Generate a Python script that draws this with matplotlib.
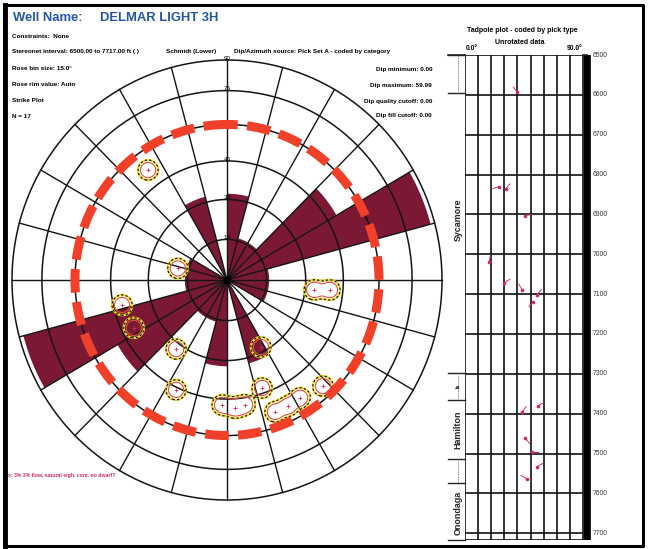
import numpy as np
import matplotlib
matplotlib.use("Agg")
import matplotlib.pyplot as plt

# ---------------- data ----------------
# Rose diagram (strike, 15 deg bins, bidirectional) - counts per bin start azimuth
rose_bin_start = [0, 15, 30, 45, 60, 75, 90, 105, 120, 135, 150, 165]
rose_counts    = [2, 1, 1, 3, 5, 1, 1, 1, 0, 0, 2, 0]
rose_rim = 5.1
rose_bin = 15.0

# Stereonet ring dips (labels) and spoke interval
ring_dips = [15, 30, 45, 60, 75, 90]
spoke_step = 15
dip_max_circle = 60  # dashed red circle (dip maximum)

# Pole positions (azimuth, dip) used for the density contours
pole_az  = [323.7, 283.0, 96.3, 95.4, 256.9, 243.3, 217.0, 152.6, 205.4,
            182.3, 176.4, 171.6, 161.6, 159.6, 153.6, 147.6, 137.2]
pole_dip = [52.0, 19.1, 33.5, 39.8, 41.5, 40.1, 32.3, 28.1, 46.0,
            47.4, 48.7, 47.9, 42.9, 53.8, 53.8, 53.3, 55.4]

# Tadpole plot
tp_depth = [6593, 6830, 6836, 6903, 7019, 7071, 7089, 7101, 7119,
            7380, 7395, 7462, 7497, 7533, 7563]
tp_dip   = [40, 26, 31, 46, 18.5, 30, 43.5, 55, 52, 56, 43.5, 46, 51, 55, 47]
tp_azi   = [320, 250, 40, 80, 10, 60, 330, 40, 220, 60, 40, 140, 90, 60, 300]
depth_top, depth_bot = 6500, 7717
depth_ticks = list(range(6500, 7701, 100))
dip_ticks = list(range(0, 91, 10))

# Formation tops
form_names  = ["Sycamore", "Hamilton", "Onondaga"]
form_label_depth = [6913, 7440, 7648]
bracket_pairs = [(6500, 6595), (7297, 7365), (7513, 7575)]

W, H = 649, 549
fig = plt.figure(figsize=(W / 100, H / 100), dpi=100)
fig.patch.set_facecolor("white")

FONT = "Liberation Sans"
BLUE = "#2456A6"
MAROON = "#7B1935"
RED = "#F0402A"
PINK = "#D02868"

# ---------------- background axes (pixel coords, text & frame) ----------------
bg = fig.add_axes([0, 0, 1, 1])
bg.set_xlim(0, W)
bg.set_ylim(H, 0)
bg.axis("off")

bg.plot([4, 643, 643, 4, 4], [5, 5, 546, 546, 5], color="black", lw=2.2)
bg.plot([5, 5], [5, 546], color="black", lw=3.5)

bg.text(13, 18, "Well Name:", color=BLUE, fontsize=9.4, fontweight="bold",
        family=FONT, va="center", ha="left")
bg.text(100, 18, "DELMAR LIGHT 3H", color=BLUE, fontsize=9.4, fontweight="bold",
        family=FONT, va="center", ha="left")

small = dict(fontsize=4.6, fontweight="bold", family=FONT, va="center", color="black")
bg.text(12, 36, "Constraints:  None", ha="left", **small)
bg.text(12, 52, "Stereonet interval: 6500.00 to 7717.00 ft ( )", ha="left", **small)
bg.text(166, 52, "Schmidt (Lower)", ha="left", **small)
bg.text(234, 52, "Dip/Azimuth source: Pick Set A - coded by category", ha="left", **small)
bg.text(12, 69, "Rose bin size: %.1f°" % rose_bin, ha="left", **small)
bg.text(12, 85, "Rose rim value: Auto", ha="left", **small)
bg.text(12, 101, "Strike Plot", ha="left", **small)
bg.text(12, 116, "N = 17", ha="left", **small)
bg.text(432, 69, "Dip minimum: 0.00", ha="right", **small)
bg.text(432, 85, "Dip maximum: 59.99", ha="right", **small)
bg.text(432, 101, "Dip quality cutoff: 0.00", ha="right", **small)
bg.text(432, 116, "Dip fill cutoff: 0.00", ha="right", **small)

title_kw = dict(small, fontsize=5.0)
bg.text(522, 31, "Tadpole plot - coded by pick type", ha="center", **title_kw)
bg.text(520, 42, "Unrotated data", ha="center", **title_kw)

bg.text(8, 476, "x: 3% 3% flow, natural eigh. cont. no dwarf?", ha="left", color=PINK,
        fontsize=3.7, family=FONT, va="center", fontweight="bold")

# ---------------- stereonet ----------------
cx, cy = 227, 280
sx, sy = 215.0, 220.0
L = 1.06
st = fig.add_axes([(cx - L * sx) / W, (H - cy - L * sy) / H, 2 * L * sx / W, 2 * L * sy / H])
st.set_xlim(-L, L)
st.set_ylim(-L, L)
st.axis("off")

def proj(az, dip):
    r = np.sqrt(2) * np.sin(np.radians(dip) / 2)
    a = np.radians(az)
    return r * np.sin(a), r * np.cos(a)

# rose petals (mirrored)
for b0, c in zip(rose_bin_start, rose_counts):
    if c <= 0:
        continue
    r = c / rose_rim
    for off in (0, 180):
        a = np.radians(np.linspace(b0 + off, b0 + off + rose_bin, 30))
        xs = np.concatenate([[0], r * np.sin(a), [0]])
        ys = np.concatenate([[0], r * np.cos(a), [0]])
        st.fill(xs, ys, color=MAROON, lw=0, zorder=1)

# rings
t = np.linspace(0, 2 * np.pi, 400)
for d in ring_dips:
    r = np.sqrt(2) * np.sin(np.radians(d) / 2)
    st.plot(r * np.sin(t), r * np.cos(t), color="#141414", lw=1.1, zorder=2)
# spokes
for az in range(0, 360, spoke_step):
    a = np.radians(az)
    st.plot([0, np.sin(a)], [0, np.cos(a)], color="#141414", lw=1.0, zorder=2)
st.plot([0], [0], "o", color="black", ms=5, zorder=3)
# ring labels
for d in ring_dips:
    r = np.sqrt(2) * np.sin(np.radians(d) / 2)
    st.text(0, r + 0.008, str(d), ha="center", va="center", fontsize=4.6,
            family=FONT, color="black", zorder=4)

# density contours
gx = np.linspace(-L, L, 500)
gy = np.linspace(-L, L, 500)
GX, GY = np.meshgrid(gx, gy)
px, py = proj(np.array(pole_az), np.array(pole_dip))
dens = np.zeros_like(GX)
s = 5.6
for x0, y0 in zip(px, py):
    d2 = ((GX - x0) * sx) ** 2 + ((GY - y0) * sy) ** 2
    dens += np.exp(-d2 / (2 * s * s))
st.contour(GX, GY, dens, levels=[0.2], colors=["#EEDC30"], linewidths=1.6, zorder=5)
st.contour(GX, GY, dens, levels=[0.2], colors=["black"], linewidths=0.8,
           linestyles=[(0, (2, 2))], zorder=6)
st.contour(GX, GY, dens, levels=[0.4], colors=["#E0503A"], linewidths=0.8, zorder=6)
st.plot(px, py, "+", color=PINK, ms=3, mew=0.6, zorder=7)

# dashed red dip-max circle
rr = np.sqrt(2) * np.sin(np.radians(dip_max_circle) / 2)
t2 = np.linspace(np.pi / 2, np.pi / 2 + 2 * np.pi, 800)
st.plot(rr * np.cos(t2), rr * np.sin(t2), color=RED, lw=6.5,
        linestyle=(0, (2.6, 1.05)), solid_capstyle="butt", dash_capstyle="butt", zorder=8)

# ---------------- tadpole plot ----------------
x0p, x1p = 465, 583
tp = fig.add_axes([x0p / W, (H - 540) / H, (x1p - x0p) / W, 485 / H])
tp.set_xlim(0, 90)
tp.set_ylim(depth_bot, depth_top)
tp.axis("off")
for d in dip_ticks:
    tp.plot([d, d], [depth_top, depth_bot], color="#111111", lw=1.2)
for d in depth_ticks + [depth_bot]:
    tp.plot([0, 90], [d, d], color="#111111", lw=1.2)

# thick bar and depth labels
bar_x = (587 - x0p) / (x1p - x0p) * 90
tp.plot([bar_x, bar_x], [depth_top, depth_bot], color="black", lw=5.5, clip_on=False,
        solid_capstyle="butt")
lab_x = (593 - x0p) / (x1p - x0p) * 90
for d in depth_ticks:
    tp.text(lab_x, d, str(d), ha="left", va="center", fontsize=4.9, family=FONT,
            color="#333333", clip_on=False)
tp.text(0.5, depth_top - 8, "0.0°", ha="left", va="bottom", fontsize=4.9,
        family=FONT, fontweight="bold", clip_on=False)
tp.text(89.5, depth_top - 8, "90.0°", ha="right", va="bottom", fontsize=4.9,
        family=FONT, fontweight="bold", clip_on=False)

# formation brackets
bx0 = (448 - x0p) / (x1p - x0p) * 90
bxm = (458 - x0p) / (x1p - x0p) * 90
for a, b in bracket_pairs:
    tp.plot([bx0, 0], [a, a], color="#222222", lw=1.0, clip_on=False)
    tp.plot([bx0, 0], [b, b], color="#222222", lw=1.0, clip_on=False)
    tp.plot([bxm, bxm], [a, b], color="#888888", lw=0.7, ls=(0, (1.5, 1)), clip_on=False)
tp.plot([bx0, 0], [depth_bot, depth_bot], color="#222222", lw=1.0, clip_on=False)
tp.plot([bx0, 0], [depth_top, depth_top], color="#222222", lw=1.2, clip_on=False)
tp.plot([bar_x, 90], [depth_top, depth_top], color="#222222", lw=1.2, clip_on=False)
tp.text(bxm, 7330, "ls", rotation=90, ha="center", va="center", fontsize=3.8,
        family=FONT, fontweight="bold", clip_on=False)
for name, dd in zip(form_names, form_label_depth):
    tp.text(bxm, dd, name, rotation=90, ha="center", va="center", fontsize=6.4,
            family=FONT, fontweight="bold", color="#222222", clip_on=False)

# tadpoles
tp.plot(tp_dip, tp_depth, "o", ms=1.6, color=PINK, mec=PINK, zorder=5)
ang = np.radians(np.array(tp_azi))
tp.quiver(tp_dip, tp_depth, np.sin(ang), np.cos(ang), angles="uv", units="dots",
          scale_units="dots", scale=1 / 7.0, width=0.9, headwidth=0, headlength=0,
          headaxislength=0, color=PINK, zorder=5)

fig.savefig("out.png", dpi=100, facecolor="white")
